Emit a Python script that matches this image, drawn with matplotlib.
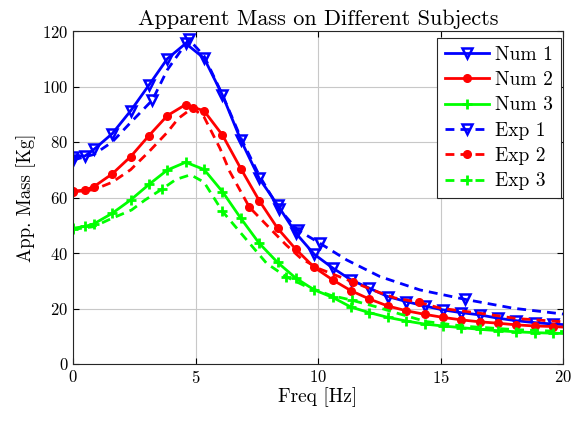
import matplotlib
matplotlib.use("Agg")
import matplotlib.pyplot as plt
import numpy as np

plt.rcParams['font.family'] = 'serif'
plt.rcParams['font.serif'] = ['cmr10', 'DejaVu Serif']
plt.rcParams['mathtext.fontset'] = 'cm'
plt.rcParams['axes.formatter.use_mathtext'] = True

# ---- data ----
freq_num = [0, 0.5, 0.85, 1.6, 2.35, 3.1, 3.85, 4.6, 5.35, 6.1, 6.85, 7.6, 8.35,
            9.1, 9.85, 10.6, 11.35, 12.1, 12.85, 13.6, 14.35, 15.1, 15.85, 16.6,
            17.35, 18.1, 18.85, 19.6, 20]
num1 = [74.7, 75.0, 77.3, 83.0, 91.2, 100.5, 110.0, 115.5, 110.2, 96.9, 80.7, 66.9, 57.3,
        47.1, 39.5, 34.6, 30.3, 27.3, 24.3, 22.5, 20.9, 19.5, 18.5, 17.7,
        16.5, 15.6, 14.9, 14.4, 14.2]
num2 = [62.3, 62.7, 63.9, 68.5, 74.7, 82.3, 89.5, 93.5, 91.2, 82.5, 70.4, 58.9, 48.9,
        41.3, 34.8, 30.3, 26.4, 23.4, 20.9, 19.2, 17.9, 16.8, 15.9, 15.2,
        14.7, 14.1, 13.7, 13.5, 13.3]
num3 = [48.9, 49.6, 50.5, 54.3, 59.1, 64.7, 69.9, 72.7, 70.1, 62.1, 52.5, 43.5, 36.6,
        30.9, 26.7, 24.0, 20.5, 18.5, 16.8, 15.5, 14.4, 13.7, 13.1, 12.5,
        12.0, 11.6, 11.3, 11.1, 11.0]

freq_exp1 = [0, 0.85, 1.6, 2.35, 3.24, 3.85, 4.73, 5.35, 6.1, 6.85, 7.6, 8.4, 9.17,
             10.08, 11.17, 12.53, 14.16, 16.0, 17.97, 20]
exp1 = [73.5, 75.5, 80.0, 87.0, 95.1, 106.0, 117.0, 111.0, 97.0, 81.5, 68.0, 56.0, 48.3,
        43.5, 37.5, 31.5, 26.7, 23.3, 20.1, 18.0]
exp1_marks = [0, 4, 6, 11, 12, 13, 17]

freq_exp2 = [0, 0.85, 1.6, 2.35, 3.1, 3.85, 4.3, 4.88, 5.35, 6.0, 6.4, 7.2, 8.1, 8.7,
             9.3, 10.0, 11.44, 12.4, 13.14, 14.12, 15.0, 16.6, 18.1, 20]
exp2 = [62.0, 62.8, 65.5, 70.0, 76.5, 83.5, 88.5, 92.3, 89.0, 77.7, 69.3, 56.5, 48.3, 42.9,
        38.1, 34.5, 29.5, 26.1, 23.8, 22.2, 20.1, 18.3, 16.4, 15.2]
exp2_marks = [0, 7, 11, 16, 19]

freq_exp3 = [0, 0.85, 1.44, 2.39, 2.94, 3.63, 4.2, 4.8, 5.35, 6.1, 7.09, 7.9, 8.69,
             9.5, 10.5, 11.37, 12.3, 13.35, 14.4, 16.0, 18.0, 20]
exp3 = [48.5, 49.5, 51.9, 55.5, 59.1, 63.0, 66.5, 68.2, 65.5, 55.0, 44.7, 36.3, 31.5,
        28.0, 24.8, 23.0, 20.8, 18.0, 15.3, 13.6, 12.4, 11.7]
exp3_marks = [0, 5, 9, 12, 15]

blue, red, green = (0, 0, 1), (1, 0, 0), (0, 1, 0)

fig = plt.figure(figsize=(5.83, 4.21), dpi=100)
ax = fig.add_axes([73/583, 1-364/421, (563-73)/583, (364-31)/421])

lw = 2.0
num_marks = list(range(len(freq_num) - 1))
ax.plot(freq_num, num1, '-', color=blue, lw=lw, marker='v', ms=7, mfc='none', mew=1.8,
        markevery=num_marks, label='Num 1')
ax.plot(freq_num, num2, '-', color=red, lw=lw, marker='o', ms=5.5, mfc=red, mew=1,
        markevery=num_marks, label='Num 2')
ax.plot(freq_num, num3, '-', color=green, lw=lw, marker='+', ms=7, mew=2,
        markevery=num_marks, label='Num 3')
ax.plot(freq_exp1, exp1, '--', color=blue, lw=lw, dashes=(3.2, 2.2), marker='v', ms=7,
        mfc='none', mew=1.8, markevery=exp1_marks, label='Exp 1')
ax.plot(freq_exp2, exp2, '--', color=red, lw=lw, dashes=(3.2, 2.2), marker='o', ms=5.5,
        mfc=red, mew=1, markevery=exp2_marks, label='Exp 2')
ax.plot(freq_exp3, exp3, '--', color=green, lw=lw, dashes=(3.2, 2.2), marker='+', ms=7,
        mew=2, markevery=exp3_marks, label='Exp 3')

ax.set_xlim(0, 20)
ax.set_ylim(0, 120)
ax.set_xticks([0, 5, 10, 15, 20])
ax.set_yticks([0, 20, 40, 60, 80, 100, 120])
ax.grid(True, color='#c8c8c8', lw=0.8)
ax.set_axisbelow(True)
ax.tick_params(direction='in', top=True, right=True, labelsize=12, length=4, width=0.8)
for s in ax.spines.values():
    s.set_linewidth(0.8)
    s.set_color('#262626')

ax.set_title('Apparent Mass on Different Subjects', fontsize=16, pad=4)
ax.set_xlabel('Freq [Hz]', fontsize=14, labelpad=1)
ax.set_ylabel('App. Mass [Kg]', fontsize=13.5, labelpad=4)

leg = ax.legend(loc='upper right', bbox_to_anchor=((561-73)/490, (364-38)/333),
                fontsize=14, frameon=True, fancybox=False,
                borderaxespad=0.0, handlelength=2.3, labelspacing=0.38,
                borderpad=0.4, handletextpad=0.3)
leg.get_frame().set_edgecolor('#262626')
leg.get_frame().set_linewidth(0.8)
leg.get_frame().set_alpha(1)

fig.savefig('out.png', dpi=100)
